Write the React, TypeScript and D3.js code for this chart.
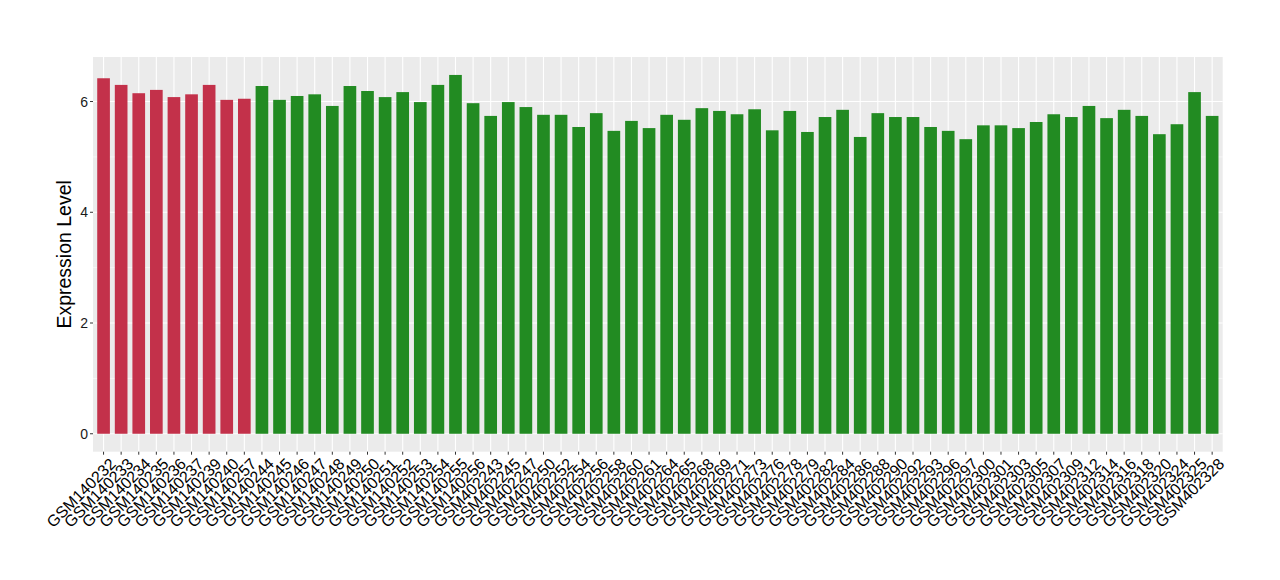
import React from "react";
import * as d3 from "d3";

const samples: string[] = [
  "GSM140232", "GSM140233", "GSM140234", "GSM140235", "GSM140236", "GSM140237", "GSM140239", "GSM140240", "GSM140257",
  "GSM140244", "GSM140245", "GSM140246", "GSM140247", "GSM140248", "GSM140249", "GSM140250", "GSM140251", "GSM140252",
  "GSM140253", "GSM140254", "GSM140255", "GSM140256",
  "GSM402243", "GSM402245", "GSM402247", "GSM402250", "GSM402252", "GSM402254", "GSM402256", "GSM402258", "GSM402260",
  "GSM402261", "GSM402264", "GSM402265", "GSM402268", "GSM402269", "GSM402271", "GSM402273", "GSM402276", "GSM402278",
  "GSM402279", "GSM402282", "GSM402284", "GSM402286", "GSM402288", "GSM402290", "GSM402292", "GSM402293", "GSM402296",
  "GSM402297", "GSM402300", "GSM402301", "GSM402303", "GSM402305", "GSM402307", "GSM402309", "GSM402312", "GSM402314",
  "GSM402316", "GSM402318", "GSM402320", "GSM402324", "GSM402325", "GSM402328",
];

const values: number[] = [
  6.42, 6.30, 6.15, 6.21, 6.08, 6.13, 6.30, 6.03, 6.05,
  6.28, 6.03, 6.10, 6.13, 5.92, 6.28, 6.19, 6.08, 6.17,
  5.99, 6.30, 6.48, 5.97,
  5.74, 5.99, 5.90, 5.76, 5.76, 5.54, 5.79, 5.47, 5.65,
  5.52, 5.76, 5.67, 5.88, 5.83, 5.77, 5.86, 5.48, 5.83,
  5.45, 5.72, 5.85, 5.36, 5.79, 5.72, 5.72, 5.54, 5.47,
  5.32, 5.57, 5.57, 5.52, 5.63, 5.77, 5.72, 5.92, 5.70,
  5.85, 5.74, 5.41, 5.59, 6.17, 5.74,
];

const groups: string[] = samples.map((_, i) => (i < 9 ? "A" : "B"));
const groupColors: Record<string, string> = { A: "#C3314A", B: "#228B22" };

const yTicks: number[] = [0, 2, 4, 6];
const yMinor: number[] = [1, 3, 5];
const yLabel = "Expression Level";

const W = 1280;
const H = 580;
const panel = { left: 93, right: 1222.7, top: 57, bottom: 451.7 };

export default function App() {
  const maxV = d3.max(values) as number;
  const x = d3
    .scaleBand<string>()
    .domain(samples)
    .range([panel.left, panel.right])
    .paddingInner(0.28)
    .paddingOuter(0.24);
  const y = d3
    .scaleLinear()
    .domain([-0.05 * maxV, maxV * 1.05])
    .range([panel.bottom, panel.top]);

  const font = "'Liberation Sans', Arial, Helvetica, sans-serif";

  return (
    <svg
      width={W}
      height={H}
      style={{ position: "absolute", left: 0, top: 0, background: "#fff" }}
      fontFamily={font}
    >
      <rect
        x={panel.left}
        y={panel.top}
        width={panel.right - panel.left}
        height={panel.bottom - panel.top}
        fill="#EBEBEB"
      />
      {yMinor.map((t) => (
        <line
          key={"mn" + t}
          x1={panel.left}
          x2={panel.right}
          y1={y(t)}
          y2={y(t)}
          stroke="#fff"
          strokeWidth={0.55}
        />
      ))}
      {yTicks.map((t) => (
        <line
          key={"mj" + t}
          x1={panel.left}
          x2={panel.right}
          y1={y(t)}
          y2={y(t)}
          stroke="#fff"
          strokeWidth={1.1}
        />
      ))}
      {samples.map((s) => {
        const cx = (x(s) as number) + x.bandwidth() / 2;
        return (
          <line
            key={"vg" + s}
            x1={cx}
            x2={cx}
            y1={panel.top}
            y2={panel.bottom}
            stroke="#fff"
            strokeWidth={1.1}
          />
        );
      })}
      {samples.map((s, i) => (
        <rect
          key={"b" + s}
          x={x(s) as number}
          y={y(values[i])}
          width={x.bandwidth()}
          height={y(0) - y(values[i])}
          fill={groupColors[groups[i]]}
        />
      ))}
      {yTicks.map((t) => (
        <g key={"yt" + t}>
          <line x1={panel.left - 3} x2={panel.left} y1={y(t)} y2={y(t)} stroke="#333" strokeWidth={1} />
          <text
            x={panel.left - 5}
            y={y(t)}
            dy="0.36em"
            textAnchor="end"
            fontSize={14}
            fill="#1a1a1a"
          >
            {t}
          </text>
        </g>
      ))}
      {samples.map((s) => {
        const cx = (x(s) as number) + x.bandwidth() / 2;
        return (
          <g key={"xt" + s}>
            <line x1={cx} x2={cx} y1={panel.bottom} y2={panel.bottom + 3} stroke="#333" strokeWidth={1} />
            <text
              transform={`translate(${cx + 5},${panel.bottom + 5}) rotate(-45)`}
              textAnchor="end"
              dy="0.72em"
              fontSize={16}
              fill="#000"
            >
              {s}
            </text>
          </g>
        );
      })}
      <text
        transform={`translate(71,${(panel.top + panel.bottom) / 2}) rotate(-90)`}
        textAnchor="middle"
        fontSize={19.5}
        fill="#000"
      >
        {yLabel}
      </text>
    </svg>
  );
}
